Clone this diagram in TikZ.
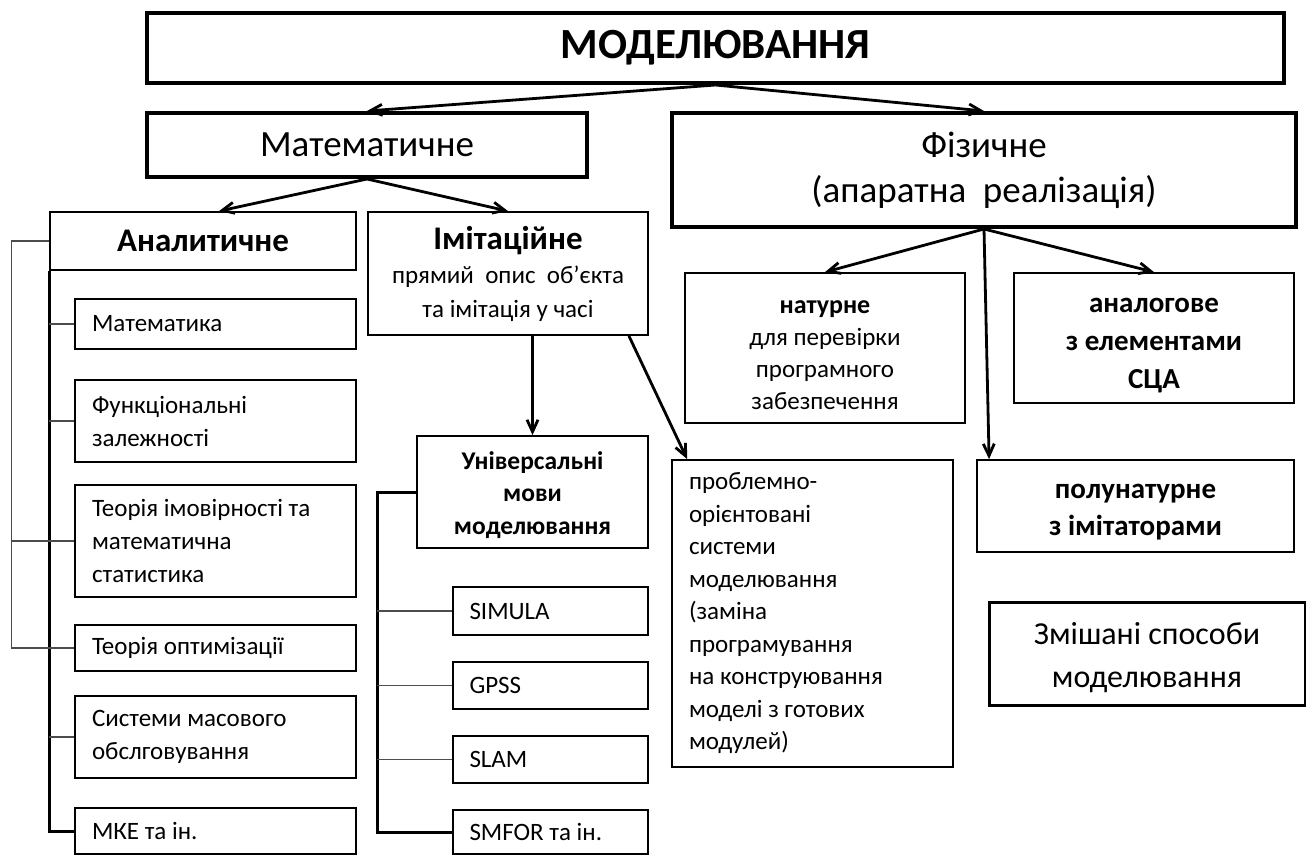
\documentclass[tikz,border=0pt]{standalone}
\usepackage{fontspec}
\setmainfont{Carlito}
\usetikzlibrary{
  arrows.meta,
  positioning
}

\begin{document}
\begin{tikzpicture}[
    x=1pt, y=-1pt,
    % Estilo base para caixas
    boxbase/.style={
        rectangle,
        draw=black,
        align=flush center,
        inner sep=3pt
    },
    % Caixas de nivel superior (borda grossa)
    thickbox/.style={
        boxbase,
        line width=4pt
    },
    % Caixas comuns (borda fina)
    thinbox/.style={
        boxbase,
        line width=1.8pt
    },
    % Caixas de lista (texto a esquerda)
    leafbox/.style={
        thinbox,
        align=flush left,
        inner xsep=17pt,
        text width=247pt,
        font=\fontsize{25}{33}\selectfont
    },
    % Estilo para setas
    arrow/.style={
        -{Straight Barb[length=12pt,width=11pt]},
        line width=2.8pt,
        draw=black
    },
    % Linhas da arvore
    treeline/.style={
        line width=3pt,
        draw=black
    },
    branchline/.style={
        line width=1.1pt,
        draw=black!70
    }
]
\useasboundingbox (0,0) rectangle (1306,856);

% ============================================================================
% Primeiro nivel
% ============================================================================

\node[thickbox, minimum width=1137pt, minimum height=70pt,
      font=\fontsize{43}{50}\selectfont\bfseries] (model) at (715.5,48) {МОДЕЛЮВАННЯ};

% ============================================================================
% Segundo nivel: Matematichne / Fizychne
% ============================================================================

\node[thickbox, minimum width=440pt, minimum height=64pt,
      font=\fontsize{37}{44}\selectfont] (mathm) at (367,145) {Математичне};

\node[thickbox, minimum width=624pt, minimum height=114pt,
      font=\fontsize{37}{45}\selectfont] (phys) at (984,170) {Фізичне\\(апаратна\ \ реалізація)};

% ============================================================================
% Ramo matematico
% ============================================================================

% Analitychne
\node[thinbox, minimum width=306pt, minimum height=58pt,
      font=\fontsize{33}{38}\selectfont\bfseries] (anal) at (203,241) {Аналитичне};

% Imitatsiine
\node[thinbox, minimum width=280pt, minimum height=123pt,
      font=\fontsize{25}{34}\selectfont] (imit) at (508,273.5) {%
    {\fontsize{33}{38}\selectfont\bfseries Імітаційне}\\
    прямий\ \ опис\ \ об’єкта\\
    та імітація у часі
};

% Lista analitica
\node[leafbox, minimum height=50pt]  (mat1) at (215.5,324)   {Математика};
\node[leafbox, minimum height=82pt]  (func) at (215.5,421)   {Функціональні\\залежності};
\node[leafbox, minimum height=112pt] (prob) at (215.5,541)   {Теорія імовірності та\\математична\\статистика};
\node[leafbox, minimum height=46pt]  (opt)  at (215.5,648)   {Теорія оптимізації};
\node[leafbox, minimum height=82pt]  (smo)  at (215.5,737)   {Системи масового\\обслговування};
\node[leafbox, minimum height=46pt]  (mke)  at (215.5,831)   {МКЕ та ін.};

% Universalni movy
\node[thinbox, minimum width=231pt, minimum height=112pt,
      font=\fontsize{25.5}{32.5}\selectfont\bfseries] (univ) at (532.5,492) {\rule{0pt}{24pt}Універсальні\\мови\\моделювання};

% Lista de linguagens
\node[leafbox, text width=162pt, inner xsep=16.5pt, minimum height=48pt] (simula) at (550.5,611)   {SIMULA};
\node[leafbox, text width=162pt, inner xsep=16.5pt, minimum height=47pt] (gpss)   at (550.5,685.5) {GPSS};
\node[leafbox, text width=162pt, inner xsep=16.5pt, minimum height=47pt] (slam)   at (550.5,759.5) {SLAM};
\node[leafbox, text width=162pt, inner xsep=16.5pt, minimum height=44pt] (smfor)  at (550.5,832)   {SMFOR та ін.};

% Problemno-orientovani
\node[leafbox, minimum height=307pt, font=\fontsize{25}{32.5}\selectfont] (probl) at (812.5,613.5) {%
    проблемно-\\орієнтовані\\системи\\моделювання\\(заміна\\програмування\\на конструювання\\моделі з готових\\модулей)};

% ============================================================================
% Ramo fisico
% ============================================================================

\node[thinbox, minimum width=280pt, minimum height=150pt,
      font=\fontsize{25}{32}\selectfont] (natur) at (825,348) {%
    {\fontsize{26}{35}\selectfont\bfseries\rule{0pt}{28pt}натурне}\\
    для перевірки\\
    програмного\\
    забезпечення
};

\node[thinbox, minimum width=280pt, minimum height=130pt,
      font=\fontsize{29}{38}\selectfont\bfseries] (analog) at (1154,338) {\rule{0pt}{30pt}аналогове\\з елементами\\СЦА};

\node[thinbox, minimum width=317pt, minimum height=92pt,
      font=\fontsize{29}{37}\selectfont\bfseries] (semi) at (1135.5,506) {\rule{0pt}{26pt}полунатурне\\з імітаторами};

\node[boxbase, line width=3pt, minimum width=316pt, minimum height=103pt,
      font=\fontsize{32}{43}\selectfont] (mixed) at (1147,653.5) {\rule{0pt}{30pt}Змішані способи\\моделювання};

% ============================================================================
% Setas de conexao
% ============================================================================

\draw[arrow] (model.south) -- (mathm.north);
\draw[arrow] (model.south) -- (phys.north);

\draw[arrow] (mathm.south) -- ([xshift=16pt]anal.north);
\draw[arrow] (mathm.south) -- (imit.north);

\draw[arrow] (imit.south -| univ.north) -- (univ.north);
\draw[arrow] ([xshift=-20pt]imit.south east) -- ([xshift=16pt]probl.north west);

\draw[arrow] (phys.south) -- (natur.north);
\draw[arrow] (phys.south) -- (analog.north);
\draw[arrow] (phys.south) -- ([xshift=13pt]semi.north west);

% ============================================================================
% Linhas das listas
% ============================================================================

% Lista analitica
\draw[treeline] (anal.south west) -- (anal.south west |- mke.west) -- (mke.west);
\foreach \item in {mat1, func, prob, opt, smo}
    \draw[branchline] (anal.south west |- \item.west) -- (\item.west);

\coordinate (leftrail) at ([xshift=-38pt]anal.west);
\draw[branchline] (anal.west) -- (leftrail) |- (opt.west);
\draw[branchline] (leftrail |- prob.west) -- (anal.south west |- prob.west);

% Lista de linguagens
\coordinate (midrail) at ([xshift=-39pt]univ.west);
\draw[treeline] (univ.west) -- (midrail) |- (smfor.west);
\foreach \item in {simula, gpss, slam}
    \draw[branchline] (midrail |- \item.west) -- (\item.west);

\end{tikzpicture}
\end{document}
